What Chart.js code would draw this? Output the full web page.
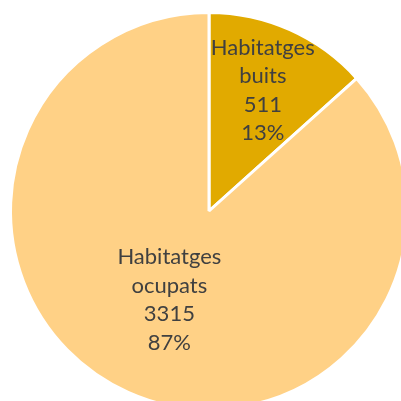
<!DOCTYPE html>
<html>
<head>
<meta charset="utf-8">
<script src="https://cdn.jsdelivr.net/npm/chart.js@4"></script>
<style>
  html, body { margin: 0; padding: 0; background: #fff; overflow: hidden; }
  #wrap { position: absolute; left: 0; top: 0; width: 418px; height: 422px; }
</style>
</head>
<body>
<div id="wrap"><canvas id="pie"></canvas></div>
<script>
// Dades
const categories = ["Habitatges buits", "Habitatges ocupats"];
const values = [511, 3315];
const percents = ["13%", "87%"];
const sliceColors = ["#E1AA00", "#FFD186"];

// posició de les etiquetes (fracció del radi)
const labelDist = [0.665, 0.49];

const sliceLabels = {
    id: "sliceLabels",
    afterDatasetsDraw(chart) {
        const ctx = chart.ctx;
        const meta = chart.getDatasetMeta(0);
        ctx.save();
        ctx.fillStyle = "#404040";
        ctx.font = "22px Lato, 'Open Sans', sans-serif";
        ctx.textAlign = "center";
        ctx.textBaseline = "middle";
        meta.data.forEach((arc, i) => {
            const mid = (arc.startAngle + arc.endAngle) / 2;
            const r = arc.outerRadius * labelDist[i];
            const x = arc.x + Math.cos(mid) * r;
            const y = arc.y + Math.sin(mid) * r;
            const words = categories[i].split(" ");
            const lines = [words[0], words[1], String(values[i]), percents[i]];
            const lh = 28.5;
            lines.forEach((t, j) => {
                ctx.fillText(t, x, y + (j - (lines.length - 1) / 2) * lh);
            });
        });
        ctx.restore();
    }
};

new Chart(document.getElementById("pie"), {
    type: "pie",
    data: {
        labels: categories,
        datasets: [{
            data: values,
            backgroundColor: sliceColors,
            borderColor: "#ffffff",
            borderWidth: 3
        }]
    },
    options: {
        responsive: true,
        maintainAspectRatio: false,
        animation: false,
        layout: { padding: { left: 9, right: 9, top: 11, bottom: 11 } },
        plugins: {
            legend: { display: false },
            tooltip: { enabled: false }
        }
    },
    plugins: [sliceLabels]
});
</script>
</body>
</html>
